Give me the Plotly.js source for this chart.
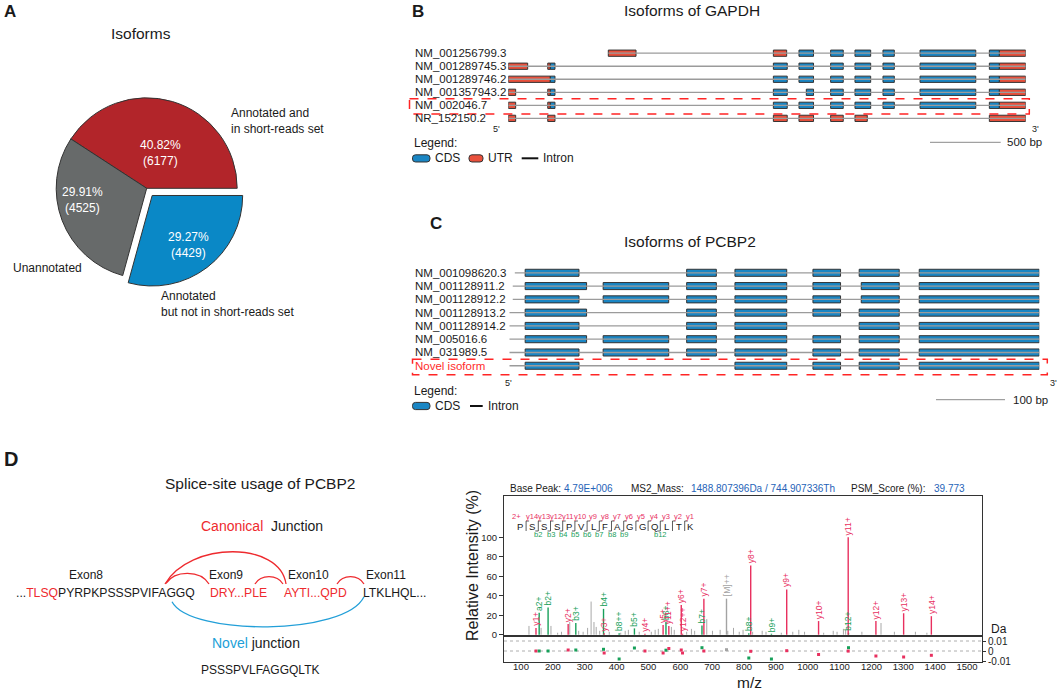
<!DOCTYPE html>
<html>
<head>
<meta charset="utf-8">
<script src="https://cdn.plot.ly/plotly-3.0.1.min.js"></script>
<style>
html,body{margin:0;padding:0;background:#ffffff;overflow:hidden;}
#fig{width:1059px;height:691px;}
</style>
</head>
<body>
<div id="fig"></div>
<script>
// ================= DATA =================
// Panel A
const pieLabels = ['Annotated and<br>in short-reads set', 'Unannotated', 'Annotated<br>but not in short-reads set'];
const pieCounts = [6177, 4525, 4429];
const piePercent = ['40.82%', '29.91%', '29.27%'];
const pieColors = ['#b2252a', '#676a6a', '#0a88c6'];

// Panel B  (bp from transcript-locus start)
const gapdhNames = ['NM_001256799.3', 'NM_001289745.3', 'NM_001289746.2', 'NM_001357943.2', 'NM_002046.7', 'NR_152150.2'];
const gapdhSpan = [[707, 3658], [0, 3658], [0, 3658], [0, 3658], [0, 3658], [0, 3658]];
const gapdhUTR = [
  [[707, 903], [1874, 1968], [3471, 3658]],
  [[0, 137], [279, 297], [3471, 3658]],
  [[0, 297], [3471, 3658]],
  [[0, 52], [279, 297], [3471, 3658]],
  [[0, 52], [279, 297], [3471, 3658]],
  [[0, 52], [279, 330], [1874, 1972], [2055, 2158], [2279, 2368], [2451, 2538], [3401, 3658]]
];
const gapdhCDS = [
  [[2055, 2158], [2279, 2368], [2451, 2562], [2649, 2729], [2911, 3305], [3401, 3471]],
  [[297, 330], [1874, 1972], [2055, 2158], [2279, 2368], [2451, 2562], [2649, 2729], [2911, 3305], [3401, 3471]],
  [[297, 330], [1874, 1972], [2055, 2158], [2279, 2368], [2451, 2562], [2649, 2729], [2911, 3305], [3401, 3471]],
  [[297, 330], [1874, 1972], [2107, 2158], [2279, 2368], [2451, 2562], [2649, 2729], [2911, 3305], [3401, 3471]],
  [[297, 330], [1874, 1972], [2055, 2158], [2279, 2368], [2451, 2562], [2649, 2729], [2911, 3305], [3401, 3471]],
  []
];
const gapdhDarkIntron = [[4, 2729, 2911]];

// Panel C
const pcbp2Names = ['NM_001098620.3', 'NM_001128911.2', 'NM_001128912.2', 'NM_001128913.2', 'NM_001128914.2', 'NM_005016.6', 'NM_031989.5', 'Novel isoform'];
const pcbp2Span = [[8, 768], [5, 768], [5, 768], [0, 768], [0, 768], [0, 768], [0, 768], [0, 768]];
const pcbp2CDS = [
  [[23, 101], [257, 300], [327, 402], [440, 480], [507, 565], [594, 768]],
  [[23, 112], [136, 231], [257, 300], [327, 402], [440, 480], [510, 565], [594, 768]],
  [[23, 101], [136, 231], [257, 300], [327, 402], [440, 480], [510, 565], [594, 768]],
  [[23, 112], [257, 300], [327, 402], [440, 480], [507, 565], [594, 768]],
  [[23, 101], [257, 300], [327, 402], [507, 565], [594, 768]],
  [[23, 112], [136, 231], [257, 300], [327, 402], [440, 480], [507, 565], [594, 768]],
  [[23, 101], [136, 231], [257, 300], [327, 402], [440, 480], [507, 565], [594, 768]],
  [[23, 101], [327, 402], [440, 480], [507, 565], [594, 768]]
];

// Panel D – spectrum
const peptide = 'PSSSPVLFAGGQLTK';
const bIonSites = [2, 3, 4, 5, 6, 7, 8, 9, 12];
const ionLabels = ['y1+', 'a2+', 'b2+', 'y2+', 'b3+', 'b4+', 'y3+', 'b8++', 'b5+', 'y4+', 'y5+', 'b6+', 'y11++', 'y6+', 'y12++', 'b7+', 'y7+', '[M]++', 'b8+', 'y8+', 'b9+', 'y9+', 'y10+', 'b12+', 'y11+', 'y12+', 'y13+', 'y14+'];
const ionType = ['y', 'b', 'b', 'y', 'b', 'b', 'y', 'b', 'b', 'y', 'y', 'b', 'y', 'y', 'y', 'b', 'y', 'm', 'b', 'y', 'b', 'y', 'y', 'b', 'y', 'y', 'y', 'y'];
const ionMZ = [147, 157, 185, 248, 272, 359, 361, 408, 456, 489, 546, 555, 564, 603, 607, 668, 674, 745, 815, 821, 886, 934, 1034, 1128, 1127, 1214, 1301, 1388];
const ionInt = [7, 22.5, 28, 11, 12, 26.5, 1.5, 1.5, 6.5, 1, 10, 13, 9, 30.5, 1, 9.5, 37, 37, 1.5, 71, 1, 46.5, 14, 2, 100, 14, 22, 19];
const ionErr = [0, 0, 0, 0.001, 0.001, 0.0017, -0.002, -0.008, 0.003, 0, -0.002, 0.0008, 0.0025, 0.001, -0.002, 0.0033, 0, 0.0013, -0.007, -0.0003, -0.008, 0.0003, -0.0035, 0.0033, -0.0001, -0.005, -0.006, -0.0043];
const noiseMZ = [125, 163, 194, 215, 227, 253, 281, 295, 309, 320, 329, 336, 347, 377, 413, 427, 437, 471, 509, 521, 531, 572, 581, 620, 635, 645, 683, 701, 725, 749, 767, 785, 797, 827, 857, 869, 917, 953, 972, 990, 1050, 1080, 1092, 1112, 1119, 1170, 1230, 1272, 1338, 1374];
const noiseInt = [9, 7, 9, 2, 3, 13, 4, 3, 7, 34, 13, 8, 4, 3, 2, 4, 5, 3, 3, 5, 6, 8, 5, 3, 6, 4, 16, 4, 5, 4, 7, 3, 5, 3, 4, 3, 2, 3, 5, 3, 2, 4, 3, 6, 5, 3, 12, 3, 3, 2];
const mzTicks = [100, 200, 300, 400, 500, 600, 700, 800, 900, 1000, 1100, 1200, 1300, 1400, 1500];
const intTicks = [0, 20, 40, 60, 80, 100];
const errTicks = [-0.01, 0, 0.01];
const errTickText = ['-0.01', '0', '0.01'];
const errGrid = [0, 0.01];

// ================= HELPERS =================
const W = 1059, H = 691;
const F = 'Liberation Sans, Arial, Helvetica, sans-serif';
const X = p => p / W;
const Y = p => 1 - p / H;
const pt = (x, y) => X(x).toFixed(5) + ',' + Y(y).toFixed(5);
const annotations = [];
const shapes = [];
function txt(text, x, y, size, opts) {
  opts = opts || {};
  annotations.push(Object.assign({
    text: text, x: X(x), y: Y(y), xref: 'paper', yref: 'paper', showarrow: false,
    xanchor: opts.xa || 'center', yanchor: 'middle', align: opts.align || 'center',
    font: {family: F, size: size, color: opts.color || '#1a1a1a', weight: opts.bold ? 'bold' : 'normal'},
    borderpad: 0
  }, opts.extra || {}));
}
function pathShape(d, color, width, dash, fill) {
  shapes.push({type: 'path', path: d, xref: 'paper', yref: 'paper',
    line: {color: color, width: width, dash: dash || 'solid'}, fillcolor: fill || 'rgba(0,0,0,0)', layer: 'above'});
}
function lineShape(x0, y0, x1, y1, color, width, dash) {
  pathShape('M ' + pt(x0, y0) + ' L ' + pt(x1, y1), color, width, dash);
}
function rectShape(x0, y0, x1, y1, color, width, dash) {
  pathShape('M ' + pt(x0, y0) + ' L ' + pt(x1, y0) + ' L ' + pt(x1, y1) + ' L ' + pt(x0, y1) + ' Z', color, width, dash);
}
function roundBox(x0, y0, x1, y1, r, fill) {
  const d = 'M ' + pt(x0 + r, y0) + ' L ' + pt(x1 - r, y0) + ' Q ' + pt(x1, y0) + ' ' + pt(x1, y0 + r) +
    ' L ' + pt(x1, y1 - r) + ' Q ' + pt(x1, y1) + ' ' + pt(x1 - r, y1) + ' L ' + pt(x0 + r, y1) +
    ' Q ' + pt(x0, y1) + ' ' + pt(x0, y1 - r) + ' L ' + pt(x0, y0 + r) + ' Q ' + pt(x0, y0) + ' ' + pt(x0 + r, y0) + ' Z';
  pathShape(d, '#333333', 1, 'solid', fill);
}

const traces = [];

// ================= PANEL A =================
const pieR = 90.5, pieCx = 146.7, pieCy = 188.3, pull = 0.1;
const half = pieR * (1 + pull);
const pieTotal = pieCounts.reduce((a, b) => a + b, 0);
traces.push({
  type: 'pie', values: pieCounts, labels: pieLabels, sort: false, direction: 'counterclockwise',
  rotation: 90 - 360 * pieCounts[0] / pieTotal,
  pull: [0, 0, pull], textinfo: 'none', hoverinfo: 'skip',
  marker: {colors: pieColors, line: {color: '#333333', width: 1}},
  domain: {x: [X(pieCx - half), X(pieCx + half)], y: [Y(pieCy + half), Y(pieCy - half)]}
});
txt('A', 10, 12, 17, {bold: true});
txt('Isoforms', 141, 34, 15.5);
const pieTextPos = [[160, 153], [82, 200], [189, 245]];
pieCounts.forEach((c, i) => txt(piePercent[i] + '<br>(' + c + ')', pieTextPos[i][0], pieTextPos[i][1], 12, {color: '#ffffff'}));
txt(pieLabels[0], 230, 121, 12, {xa: 'left', align: 'left'});
txt(pieLabels[1], 12, 268, 12, {xa: 'left', align: 'left'});
txt(pieLabels[2], 160, 303.5, 12, {xa: 'left', align: 'left'});

// ================= gene helper =================
function geneTraces(spans, utr, cds, xa, ya, wfrac) {
  const lx = [], ly = [];
  spans.forEach((s, i) => { lx.push(s[0], s[1], null); ly.push(i, i, null); });
  traces.push({type: 'scatter', mode: 'lines', x: lx, y: ly, xaxis: xa, yaxis: ya,
    line: {color: '#9b9b9b', width: 1.3}, hoverinfo: 'skip'});
  [[utr, '#e9503c'], [cds, '#1a86c4']].forEach(([rows, col]) => {
    if (!rows) return;
    const y = [], b = [], x = [];
    rows.forEach((segs, i) => segs.forEach(s => { y.push(i); b.push(s[0]); x.push(s[1] - s[0]); }));
    traces.push({type: 'bar', orientation: 'h', y: y, x: x, base: b, width: wfrac, xaxis: xa, yaxis: ya,
      marker: {color: col, line: {color: '#333333', width: 1}}, hoverinfo: 'skip'});
  });
}
const hidden = {showgrid: false, zeroline: false, showticklabels: false, showline: false, ticks: '', fixedrange: true};

// ================= PANEL B =================
const gY0 = 53.2, gStep = 13.03;
geneTraces(gapdhSpan, gapdhUTR, gapdhCDS, 'x', 'y', 0.48);
{
  const dx = [], dy = [];
  gapdhDarkIntron.forEach(d => { dx.push(d[1], d[2], null); dy.push(d[0], d[0], null); });
  traces.splice(1, 0, {type: 'scatter', mode: 'lines', x: dx, y: dy, xaxis: 'x', yaxis: 'y', line: {color: '#111111', width: 1.3}, hoverinfo: 'skip'});
}
gapdhNames.forEach((n, i) => annotations.push({text: n, x: X(414), y: i, xref: 'paper', yref: 'y', showarrow: false,
  xanchor: 'left', yanchor: 'middle', font: {family: F, size: 11.5, color: '#1a1a1a'}, borderpad: 0}));
txt('B', 418, 11, 17, {bold: true});
txt('Isoforms of GAPDH', 692, 10, 15.5);
txt("5'", 496, 129, 9);
txt("3'", 1035, 129, 9);
rectShape(409.5, 98.7, 1029.3, 114, '#ff2525', 1.5, 'dash');
txt('Legend:', 412.5, 143.3, 12, {xa: 'left'});
roundBox(412.5, 154.8, 430, 162, 3, '#1a86c4');
txt('CDS', 434, 158.4, 12, {xa: 'left'});
roundBox(469, 154.8, 483, 162, 3, '#e9503c');
txt('UTR', 486.7, 158.4, 12, {xa: 'left'});
lineShape(521.7, 158.3, 538.3, 158.3, '#111111', 2);
txt('Intron', 541.7, 158.4, 12, {xa: 'left'});
lineShape(930, 142.3, 1000.7, 142.3, '#8a8a8a', 1);
txt('500 bp', 1005.7, 142.3, 11.5, {xa: 'left'});

// ================= PANEL C =================
const cY0 = 272.8, cStep = 13.28;
geneTraces(pcbp2Span, null, pcbp2CDS, 'x2', 'y2', 0.53);
pcbp2Names.forEach((n, i) => annotations.push({text: n, x: X(414), y: i, xref: 'paper', yref: 'y2', showarrow: false,
  xanchor: 'left', yanchor: 'middle', font: {family: F, size: 11.5, color: i === 7 ? '#ff2b2b' : '#1a1a1a'}, borderpad: 0}));
txt('C', 435.5, 224, 17, {bold: true});
txt('Isoforms of PCBP2', 690, 241, 15.5);
txt("5'", 509, 382.7, 9);
txt("3'", 1053.3, 382.7, 9);
rectShape(412.5, 359.3, 1047.3, 374.7, '#ff2525', 1.5, 'dash');
txt('Legend:', 412.5, 390.7, 12, {xa: 'left'});
roundBox(412.5, 402.4, 430, 409.6, 3, '#1a86c4');
txt('CDS', 434, 406, 12, {xa: 'left'});
lineShape(470, 406, 482.7, 406, '#111111', 2);
txt('Intron', 487.3, 406, 12, {xa: 'left'});
lineShape(936, 399.7, 1005, 399.7, '#8a8a8a', 1);
txt('100 bp', 1011.7, 399.7, 11.5, {xa: 'left'});

// ================= PANEL D left =================
const RED = '#ee2a2e', BLUE = '#229fd8';
txt('D', 10.5, 459.5, 20, {bold: true});
txt('Splice-site usage of PCBP2', 260, 483, 15.5);
txt('Canonical', 200, 526, 14, {xa: 'left', color: RED});
txt('Junction', 270, 526, 14, {xa: 'left'});
txt('Exon8', 86, 575, 12); txt('Exon9', 226, 575, 12); txt('Exon10', 308, 575, 12); txt('Exon11', 386, 575, 12);
txt('...<span style="color:' + RED + '">TLSQ</span>PYRPKPSSSPVIFAGGQ', 15, 593, 12.2, {xa: 'left'});
txt('DRY...PLE', 209, 593, 12.2, {xa: 'left', color: RED});
txt('AYTI...QPD', 283, 593, 12.2, {xa: 'left', color: RED});
txt('LTKLHQL...', 362, 593, 12.2, {xa: 'left'});
txt('<span style="color:' + BLUE + '">Novel</span> junction', 211, 643, 14, {xa: 'left'});
txt('PSSSPVLFAGGQLTK', 260, 670, 12);
pathShape('M ' + pt(165, 584) + ' C ' + pt(190, 541) + ' ' + pt(280, 541) + ' ' + pt(286, 584), RED, 1.3);
pathShape('M ' + pt(166, 583.5) + ' C ' + pt(175, 570) + ' ' + pt(200, 570) + ' ' + pt(209, 584), RED, 1.3);
pathShape('M ' + pt(255, 584) + ' C ' + pt(261, 574.3) + ' ' + pt(277, 574.3) + ' ' + pt(283, 584), RED, 1.3);
pathShape('M ' + pt(337, 584) + ' C ' + pt(343, 574.3) + ' ' + pt(358, 574.3) + ' ' + pt(364, 584), RED, 1.3);
pathShape('M ' + pt(172, 601.7) + ' C ' + pt(190, 636) + ' ' + pt(345, 636) + ' ' + pt(364, 596.7), BLUE, 1.3);

// ================= PANEL D spectrum =================
const CY = '#e8305f', CB = '#17a05a', CM = '#a3a3a3';
const colOf = t => t === 'y' ? CY : (t === 'b' ? CB : CM);
function stems(mz, it) { const x = [], y = []; mz.forEach((m, i) => { x.push(m, m, null); y.push(0, it[i], null); }); return {x: x, y: y}; }
const ns = stems(noiseMZ, noiseInt);
traces.push({type: 'scatter', mode: 'lines', x: ns.x, y: ns.y, xaxis: 'x3', yaxis: 'y3', line: {color: '#a8a8a8', width: 1}, hoverinfo: 'skip'});
['m', 'b', 'y'].forEach(t => {
  const mz = [], it = [];
  ionType.forEach((tt, i) => { if (tt === t) { mz.push(ionMZ[i]); it.push(ionInt[i]); } });
  const s = stems(mz, it);
  traces.push({type: 'scatter', mode: 'lines', x: s.x, y: s.y, xaxis: 'x3', yaxis: 'y3', line: {color: colOf(t), width: 1.4}, hoverinfo: 'skip'});
});
traces.push({type: 'scatter', mode: 'markers', x: ionMZ, y: ionErr, xaxis: 'x4', yaxis: 'y4',
  marker: {symbol: 'square', size: 3, color: ionType.map(colOf)}, hoverinfo: 'skip'});
ionLabels.forEach((l, i) => annotations.push({text: l, x: ionMZ[i], y: ionInt[i], xref: 'x3', yref: 'y3', showarrow: false,
  textangle: -90, xanchor: 'center', yanchor: 'bottom', yshift: 1, borderpad: 0,
  font: {family: F, size: 8.5, color: colOf(ionType[i])}}));
errGrid.forEach(v => shapes.push({type: 'line', xref: 'x4 domain', yref: 'y4', x0: 0, x1: 1, y0: v, y1: v,
  line: {color: '#9a9a9a', width: 0.8, dash: 'dot'}, layer: 'below'}));

// header
txt('Base Peak:', 509, 488, 10, {xa: 'left'});
txt('4.79E+006', 563.3, 488, 10, {xa: 'left', color: '#2563b8'});
txt('MS2_Mass:', 630, 488, 10, {xa: 'left'});
txt('1488.807396Da / 744.907336Th', 689.6, 488, 10, {xa: 'left', color: '#2563b8'});
txt('PSM_Score (%):', 850, 488, 10, {xa: 'left'});
txt('39.773', 932.6, 488, 10, {xa: 'left', color: '#2563b8'});

// peptide with cleavage marks
const pX0 = 520, pStep = 12.2;
peptide.split('').forEach((c, i) => txt(c, pX0 + pStep * i, 526, 9.5));
txt('2+', 516, 516.7, 7.5, {color: CY});
for (let k = 1; k < peptide.length; k++) {
  const sx = pX0 + pStep * (k - 0.5);
  let d = 'M ' + pt(sx + 3, 521) + ' L ' + pt(sx, 521) + ' L ' + pt(sx, 531);
  if (bIonSites.includes(k)) d += ' L ' + pt(sx - 3, 531);
  pathShape(d, '#333333', 0.8);
  txt('y' + (peptide.length - k), sx + 5.5, 516.7, 7.5, {color: CY});
  if (bIonSites.includes(k)) txt('b' + k, sx, 534.3, 7.5, {color: CB});
}
annotations.push({text: 'Relative Intensity (%)', x: X(472), y: Y(566), xref: 'paper', yref: 'paper', showarrow: false,
  textangle: -90, xanchor: 'center', yanchor: 'middle', font: {family: F, size: 16, color: '#1a1a1a'}});
txt('m/z', 749, 682.5, 15.5);
txt('Da', 990, 629, 12, {xa: 'left'});

// ================= LAYOUT =================
const axLine = {showline: true, mirror: true, linecolor: '#333333', linewidth: 1, zeroline: false, showgrid: false, fixedrange: true};
const layout = {
  width: W, height: H, margin: {l: 0, r: 0, t: 0, b: 0}, showlegend: false,
  paper_bgcolor: '#ffffff', plot_bgcolor: 'rgba(0,0,0,0)', barmode: 'overlay',
  font: {family: F, color: '#1a1a1a'},
  xaxis: Object.assign({}, hidden, {domain: [X(508.3), X(1025.7)], range: [0, 3658], anchor: 'y'}),
  yaxis: Object.assign({}, hidden, {domain: [Y(gY0 + 5.5 * gStep), Y(gY0 - 0.5 * gStep)], range: [5.5, -0.5], anchor: 'x'}),
  xaxis2: Object.assign({}, hidden, {domain: [X(509.3), X(1039.3)], range: [0, 768], anchor: 'y2'}),
  yaxis2: Object.assign({}, hidden, {domain: [Y(cY0 + 7.5 * cStep), Y(cY0 - 0.5 * cStep)], range: [7.5, -0.5], anchor: 'x2'}),
  xaxis3: Object.assign({}, axLine, {domain: [X(504), X(982)], range: [46.6, 1547], anchor: 'y3', showticklabels: false, ticks: ''}),
  yaxis3: Object.assign({}, axLine, {domain: [Y(636), Y(496)], range: [-1.33, 142.3], anchor: 'x3',
    tickmode: 'array', tickvals: intTicks, ticks: 'outside', ticklen: 4, tickcolor: '#333333',
    tickfont: {family: F, size: 9.5, color: '#222222'}}),
  xaxis4: Object.assign({}, axLine, {domain: [X(504), X(982)], range: [46.6, 1547], anchor: 'y4',
    tickmode: 'array', tickvals: mzTicks, ticks: '', ticklen: 0, ticklabelstandoff: -4,
    tickfont: {family: F, size: 9.5, color: '#222222'}}),
  yaxis4: Object.assign({}, axLine, {domain: [Y(662), Y(636)], range: [-0.011, 0.015], anchor: 'x4', side: 'right',
    tickmode: 'array', tickvals: errTicks, ticktext: errTickText, ticks: 'outside', ticklen: 3, tickcolor: '#333333',
    tickfont: {family: F, size: 10, color: '#222222'}}),
  annotations: annotations,
  shapes: shapes
};
Plotly.newPlot('fig', traces, layout, {displayModeBar: false, staticPlot: true});
</script>
</body>
</html>
